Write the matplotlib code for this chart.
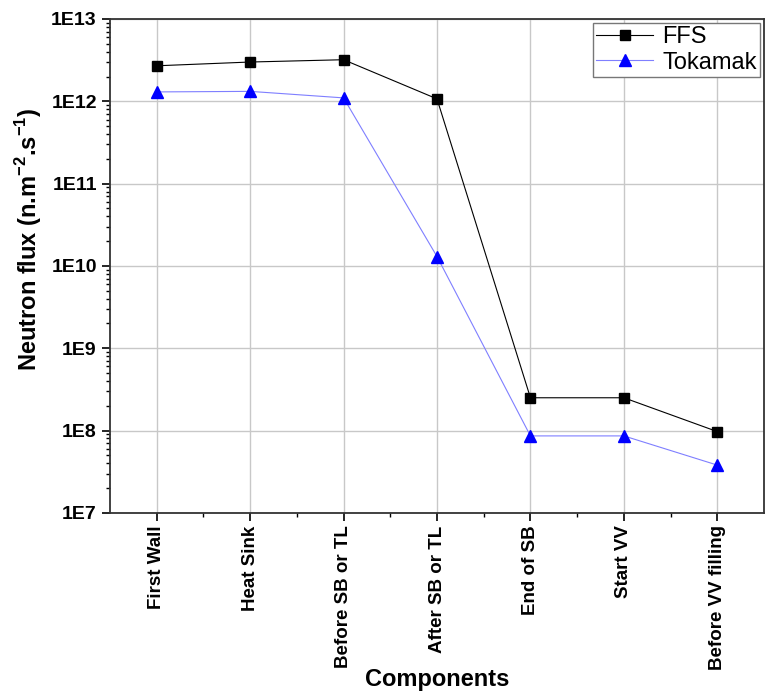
import numpy as np
import matplotlib
matplotlib.use("Agg")
import matplotlib.pyplot as plt
from matplotlib.ticker import FixedLocator, LogLocator, NullFormatter, FuncFormatter

plt.rcParams['font.family'] = ['Liberation Sans', 'DejaVu Sans']
plt.rcParams['mathtext.fontset'] = 'custom'
plt.rcParams['mathtext.rm'] = 'Liberation Sans'
plt.rcParams['mathtext.bf'] = 'Liberation Sans:bold'

# dati
components = ["First Wall", "Heat Sink", "Before SB or TL", "After SB or TL",
              "End of SB", "Start VV", "Before VV filling"]
ffs = [2.7e12, 3.0e12, 3.2e12, 1.07e12, 2.5e8, 2.5e8, 9.7e7]
tokamak = [1.3e12, 1.32e12, 1.1e12, 1.3e10, 8.6e7, 8.6e7, 3.8e7]

fig = plt.figure(figsize=(7.66, 6.93), dpi=100)
ax = fig.add_axes([0.1436, 0.26, 0.8538, 0.7126])

x = np.arange(len(components))
ax.plot(x, ffs, color="black", lw=0.8, marker="s", ms=7, label="FFS")
ax.plot(x, tokamak, color="#7f7fff", lw=0.8, marker="^", ms=8,
        markerfacecolor="blue", markeredgecolor="blue", label="Tokamak")

ax.set_yscale("log")
ax.set_ylim(1e7, 1e13)
ax.set_xlim(-0.5, len(components) - 0.5)

ax.yaxis.set_major_locator(LogLocator(base=10, numticks=10))
ax.yaxis.set_minor_locator(LogLocator(base=10, subs=np.arange(2, 10), numticks=10))
ax.yaxis.set_minor_formatter(NullFormatter())
ax.yaxis.set_major_formatter(FuncFormatter(lambda v, p: "1E%d" % round(np.log10(v))))

ax.set_xticks(x)
ax.set_xticklabels(components, rotation=90)
ax.xaxis.set_minor_locator(FixedLocator(x[:-1] + 0.5))

ax.grid(True, which="major", color="#c8c8c8", lw=1.0)
ax.set_axisbelow(True)

ax.tick_params(axis="both", which="major", direction="out", length=6, width=1.2)
ax.tick_params(axis="y", which="major", labelsize=14)
ax.tick_params(axis="x", which="major", labelsize=13.5, pad=3)
ax.tick_params(axis="both", which="minor", direction="out", length=3, width=1.0)
for lab in ax.get_xticklabels() + ax.get_yticklabels():
    lab.set_fontweight("bold")
for s in ax.spines.values():
    s.set_linewidth(1.3)
    s.set_color("#333333")

ax.set_xlabel("Components", fontsize=17, fontweight="bold", va="center")
ax.xaxis.set_label_coords(0.5, -0.338)
ax.set_ylabel(r"Neutron flux (n.m$^{\mathbf{-2}}$.s$^{\mathbf{-1}}$)",
              fontsize=17, fontweight="bold", va="center")
ax.yaxis.set_label_coords(-0.125, 0.555)

leg = ax.legend(loc="upper right", fontsize=17, fancybox=False, framealpha=1,
                edgecolor="#777777", borderaxespad=0.15, handlelength=2.4,
                borderpad=0.15, labelspacing=0.15, handletextpad=0.4)

fig.savefig("out.png", dpi=100)
